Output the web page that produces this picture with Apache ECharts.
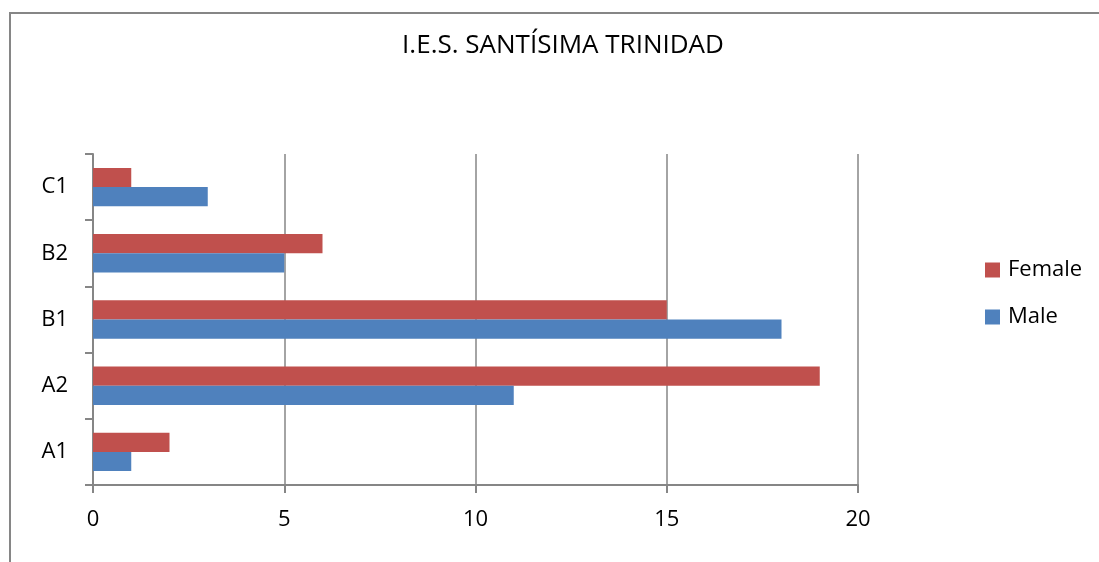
<!DOCTYPE html>
<html>
<head>
<meta charset="utf-8">
<script src="https://cdn.jsdelivr.net/npm/echarts@6/dist/echarts.min.js"></script>
<style>
  html, body { margin: 0; padding: 0; background: #fff; }
  #chart { width: 1099px; height: 562px; }
</style>
</head>
<body>
<div id="chart"></div>
<script>
// 数据
var categories = ["A1", "A2", "B1", "B2", "C1"];
var maleValues = [1, 11, 18, 5, 3];
var femaleValues = [2, 19, 15, 6, 1];
var xTicks = [0, 5, 10, 15, 20];

var chart = echarts.init(document.getElementById("chart"));
var axisGray = "#868686";
var fontName = "Open Sans";

var option = {
  backgroundColor: "#fff",
  animation: false,
  textStyle: { fontFamily: fontName },
  graphic: [
    {
      type: "rect",
      shape: { x: 10, y: 13, width: 1200, height: 700 },
      style: { fill: "none", stroke: axisGray, lineWidth: 2 },
    },
  ],
  title: {
    text: "I.E.S. SANTÍSIMA TRINIDAD",
    left: 558,
    textAlign: "center",
    top: 28,
    textStyle: { color: "#000", fontSize: 26, fontWeight: "normal", fontFamily: fontName },
  },
  legend: {
    data: ["Female", "Male"],
    orient: "vertical",
    left: 980,
    top: 254,
    itemWidth: 15,
    itemHeight: 15,
    itemGap: 25,
    icon: "rect",
    textStyle: { color: "#000", fontSize: 22, fontFamily: fontName, padding: [0, 0, 0, 3] },
  },
  grid: { left: 93, right: 241, top: 154, bottom: 77 },
  xAxis: {
    type: "value",
    min: xTicks[0],
    max: xTicks[xTicks.length - 1],
    interval: 5,
    axisLine: { show: true, lineStyle: { color: axisGray, width: 2 } },
    axisTick: { show: true, length: 8, lineStyle: { color: axisGray, width: 2 } },
    splitLine: { show: true, lineStyle: { color: axisGray, width: 1.5 } },
    axisLabel: { color: "#000", fontSize: 22, margin: 24, fontFamily: fontName },
  },
  yAxis: {
    type: "category",
    data: categories,
    axisLine: { show: true, lineStyle: { color: axisGray, width: 2 } },
    axisTick: { show: true, length: 8, lineStyle: { color: axisGray, width: 2 } },
    axisLabel: { color: "#000", fontSize: 22, margin: 25, fontFamily: fontName },
  },
  series: [
    {
      name: "Female",
      type: "bar",
      data: femaleValues,
      barGap: "0%",
      barCategoryGap: "42%",
      itemStyle: { color: "#C0504D" },
    },
    {
      name: "Male",
      type: "bar",
      data: maleValues,
      barGap: "0%",
      barCategoryGap: "42%",
      itemStyle: { color: "#4F81BD" },
    },
  ],
};

chart.setOption(option);
</script>
</body>
</html>
